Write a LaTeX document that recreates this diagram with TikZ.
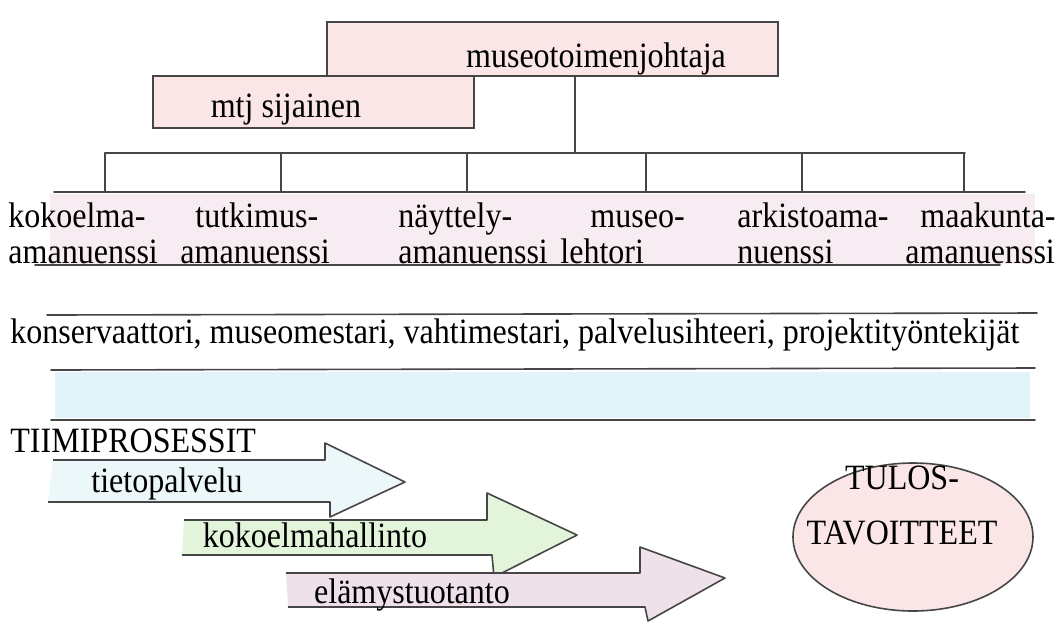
\documentclass[tikz,border=0pt]{standalone}
\usepackage{fontspec}
\setmainfont[FakeStretch=0.9]{Liberation Serif}
\usepackage{tikz}
\usetikzlibrary{positioning, shapes.geometric}
\definecolor{penline}    {RGB}{70,  70,  70}
\definecolor{crayonred}  {RGB}{251, 230, 231}
\definecolor{crayonmauve}{RGB}{247, 236, 242}
\definecolor{crayoncyan} {RGB}{226, 244, 249}
\definecolor{crayonblue} {RGB}{236, 247, 250}
\definecolor{crayongreen}{RGB}{226, 245, 218}
\definecolor{crayonplum} {RGB}{239, 225, 233}
\tikzset{
  orgbox/.style={
    rectangle, draw=penline, line width=0.8pt,
    inner sep=0pt, outer sep=0pt
  },
  orgline/.style={
    draw=penline, line width=0.8pt, line cap=round
  },
  orgtext/.style={
    inner sep=0pt, font=\fontsize{17.8}{21}\selectfont
  },
  procarrow/.style={
    draw=penline, line width=0.8pt, line join=round
  },
  goalshape/.style={
    ellipse, draw=penline, line width=0.8pt, inner sep=0pt
  },
}

\begin{document}
\begin{tikzpicture}[x=0.5pt, y=-0.5pt]
  \useasboundingbox (0,0) rectangle (1061,623);

  % Leadership
  \node[orgbox, fill=crayonred, minimum width=225.5pt, minimum height=27pt] (johtaja) at (552.5,49) {};
  \node[orgbox, fill=crayonred, minimum width=160.5pt, minimum height=26pt] (sijainen) at (313.5,102) {};
  \node[orgtext, anchor=base] (johtajatxt) at (596,67) {museotoimenjohtaja};
  \node[orgtext, anchor=base] (sijainentxt) at (286,117) {mtj sijainen};

  % Bracket down to the posts
  \fill[crayonmauve] (50,194) rectangle (1035,264);
  \coordinate (bar) at (575,153);
  \coordinate (barL) at (105,153);
  \coordinate (barR) at (965,153);
  \coordinate (lowL) at (54,192);
  \coordinate (lowR) at (1025,192);
  \draw[orgline] (johtaja.south -| bar) -- (bar);
  \draw[orgline] (barL) -- (barR);
  \draw[orgline] (lowL) -- (lowR);
  \foreach \x [count=\i] in {105,281,467,646,802,964} {
    \coordinate (tick\i) at (\x,153);
    \draw[orgline] (tick\i) -- (tick\i |- lowL);
  }
  \draw[orgline] (35,265) -- (1000,265);

  % Posts
  \foreach \x/\t [count=\i] in {8/kokoelma-, 195/tutkimus-, 398/näyttely-, 590/museo-, 737/arkistoama-, 920/maakunta-}
    \node[orgtext, anchor=base west] (title\i) at (\x,227) {\t};
  \foreach \x/\t [count=\i] in {8/amanuenssi, 180/amanuenssi, 398/amanuenssi, 560/lehtori, 737/nuenssi, 905/amanuenssi}
    \node[orgtext, anchor=base west] (post\i) at (\x,263) {\t};

  % Other staff
  \draw[orgline] (47,315) -- (1037,313);
  \node[orgtext, anchor=base west] (staff) at (10,343)
        {konservaattori, museomestari, vahtimestari, palvelusihteeri, projektityöntekijät};
  \fill[crayoncyan] (55,372) rectangle (1030,418);
  \draw[orgline] (51,370) -- (1035,368);
  \draw[orgline] (51,420) -- (1035,420);

  % Team processes
  \node[orgtext, anchor=base west] (tiimi) at (10,452) {TIIMIPROSESSIT};
  \path[procarrow, fill=crayonblue] (53,460) -- (325,460) -- (325,443) -- (405,482)
        -- (330,517) -- (330,502) -- (48,502);
  \path[procarrow, fill=crayongreen] (184,520) -- (487,520) -- (487,493) -- (577,535)
        -- (494,577) -- (492,555) -- (182,555);
  \path[procarrow, fill=crayonplum] (286,573) -- (640,573) -- (640,547) -- (725,578)
        -- (648,621) -- (645,607) -- (288,607);
  \node[orgtext, anchor=base] (tieto) at (167,492) {tietopalvelu};
  \node[orgtext, anchor=base] (kokoelma) at (315,547) {kokoelmahallinto};
  \node[orgtext, anchor=base] (elamys) at (412,603) {elämystuotanto};

  % Targets
  \node[goalshape, fill=crayonred, minimum width=120pt, minimum height=74pt] (tulos) at (913,537) {};
  \node[orgtext, anchor=base] (tulos1) at (902,489) {TULOS-};
  \node[orgtext, anchor=base] (tulos2) at (902,544) {TAVOITTEET};
\end{tikzpicture}
\end{document}
